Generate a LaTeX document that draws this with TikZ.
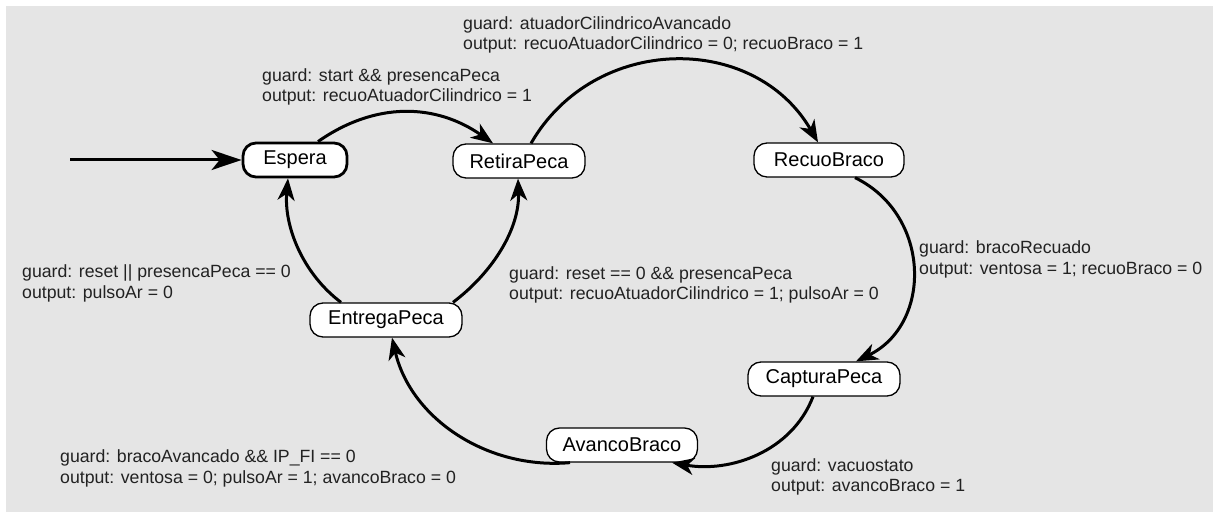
\documentclass[tikz,border=0pt]{standalone}
\usepackage{fontspec}
\setmainfont{Liberation Sans}
\usetikzlibrary{arrows.meta}
\definecolor{panel}{RGB}{229,229,229}
\definecolor{labelink}{RGB}{34,34,34}

\tikzset{
  state/.style={draw=black, line width=1.3pt, fill=white, rounded corners=13pt,
    minimum height=34pt, inner sep=0pt, font=\fontsize{20}{24}\selectfont},
  initstate/.style={state, line width=2.8pt},
  trans/.style={line width=3pt, -{Stealth[length=22pt, width=17pt, inset=6.5pt]}},
  inittrans/.style={line width=3pt, -{Stealth[length=30pt, width=20pt, inset=8pt]}},
  guardlbl/.style={anchor=west, align=left, inner sep=0pt, text=labelink,
    font=\fontsize{17.7}{20.7}\selectfont},
}

\begin{document}
\begin{tikzpicture}[x=1pt, y=1pt]
\useasboundingbox (0,0) rectangle (1213,513);
\fill[white] (0,0) rectangle (1213,513);
\fill[panel] (6,1) rectangle (1213,507);

% states
\node[initstate, minimum width=104pt] (espera)  at (295,353) {Espera};
\node[state, minimum width=132pt]     (retira)  at (519,352) {RetiraPeca};
\node[state, minimum width=150pt]     (recuo)   at (829,353) {RecuoBraco};
\node[state, minimum width=152pt]     (captura) at (824,134) {CapturaPeca};
\node[state, minimum width=151pt]     (avanco)  at (622,68)  {AvancoBraco};
\node[state, minimum width=152pt]     (entrega) at (386,193) {EntregaPeca};

% initial transition
\coordinate (start) at (70,353);
\draw[inittrans] (start) -- (espera.west);

% transitions
\draw[trans] ([xshift=23pt]espera.north) .. controls +(35:70) and +(145:70) .. ([xshift=-26pt]retira.north);
\draw[trans] ([xshift=12pt]retira.north) .. controls +(60:127) and +(120:127) .. ([xshift=-11pt]recuo.north);
\draw[trans] ([xshift=26pt]recuo.south) .. controls +(334:85) and +(26:85) .. ([xshift=32pt]captura.north);
\draw[trans] ([xshift=-11pt]captura.south) .. controls +(249:59) and +(-10:59) .. ([xshift=50pt]avanco.south);
\draw[trans] ([xshift=-52pt]avanco.south) .. controls +(185:83) and +(-77:83) .. ([xshift=6pt]entrega.south);
\draw[trans] ([xshift=-45pt]entrega.north) .. controls +(143:48) and +(265:48) .. ([xshift=-7pt]espera.south);
\draw[trans] ([xshift=67pt]entrega.north) .. controls +(37:50) and +(-88:50) .. ([xshift=-1pt]retira.south);

% guards and outputs
\node[guardlbl] (l1) at (262,426) {guard: start \&\& presencaPeca\\output: recuoAtuadorCilindrico = 1};
\node[guardlbl] (l2) at (463,478) {guard: atuadorCilindricoAvancado\\output: recuoAtuadorCilindrico = 0; recuoBraco = 1};
\node[guardlbl] (l3) at (919,253.5) {guard: bracoRecuado\\output: ventosa = 1; recuoBraco = 0};
\node[guardlbl] (l4) at (509,228) {guard: reset == 0 \&\& presencaPeca\\output: recuoAtuadorCilindrico = 1; pulsoAr = 0};
\node[guardlbl] (l5) at (22,229.5) {guard: reset || presencaPeca == 0\\output: pulsoAr = 0};
\node[guardlbl] (l6) at (60,44.5) {guard: bracoAvancado \&\& IP\_FI == 0\\output: ventosa = 0; pulsoAr = 1; avancoBraco = 0};
\node[guardlbl] (l7) at (771,36) {guard: vacuostato\\output: avancoBraco = 1};
\end{tikzpicture}
\end{document}
